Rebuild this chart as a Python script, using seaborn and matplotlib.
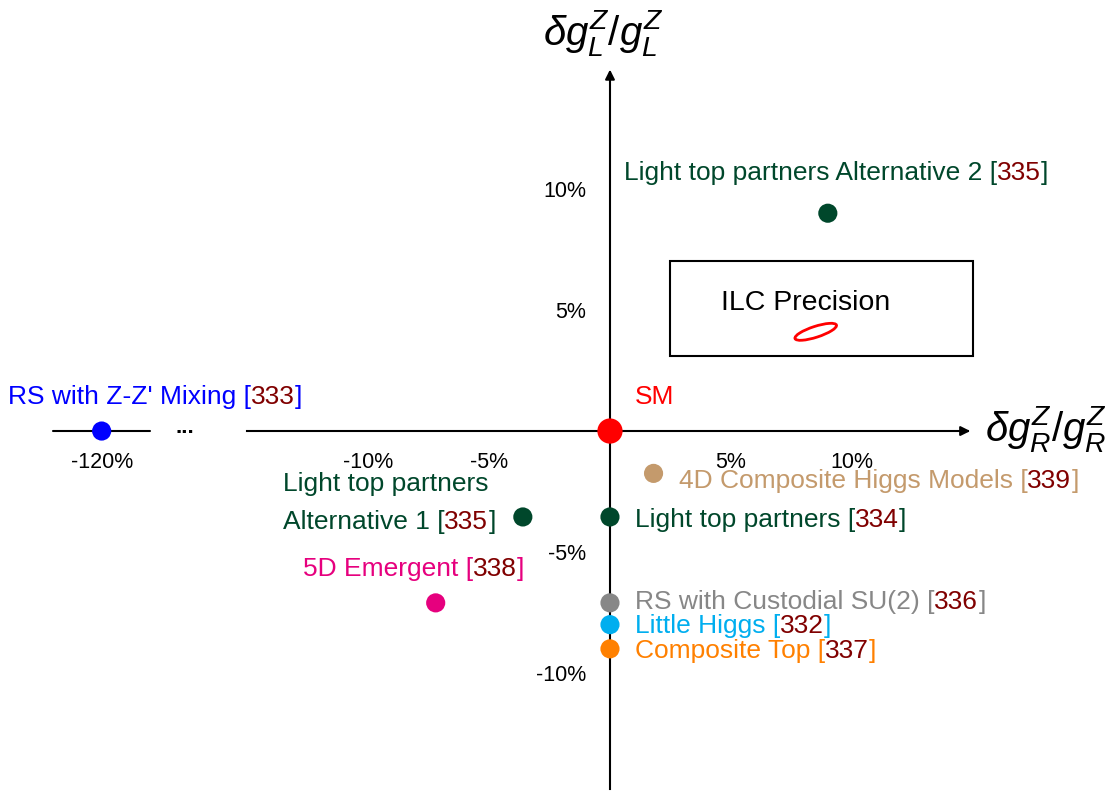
import numpy as np
import pandas as pd
import seaborn as sns
import matplotlib.pyplot as plt
from matplotlib.patches import Ellipse, Rectangle

# model predictions, shifts in percent
models = ["RS with Z-Z' Mixing", "Light top partners Alternative 2", "4D Composite Higgs Models",
          "Light top partners", "Light top partners Alternative 1", "5D Emergent",
          "RS with Custodial SU(2)", "Little Higgs", "Composite Top"]
dgR = [-120, 9.0, 1.8, 0.0, -3.6, -7.2, 0.0, 0.0, 0.0]
dgL = [0.0, 9.0, -1.75, -3.55, -3.55, -7.1, -7.1, -8.0, -9.0]
refs = ["333", "335", "339", "334", "335", "338", "336", "332", "337"]
colors = ["#0000ff", "#00472b", "#c49a6c", "#00472b", "#00472b", "#e6007e",
          "#878787", "#00aeef", "#ff8000"]
sm_x, sm_y = [0.0], [0.0]

xticks = [-120, -10, -5, 5, 10]
yticks = [-10, -5, 5, 10]

# ILC precision ellipse (shown inside the box)
ilc_center = (8.5, 4.1)
ilc_w, ilc_h, ilc_angle = 1.8, 0.45, 18

sns.set_style("white")
plt.rcParams["font.family"] = ["Liberation Sans", "DejaVu Sans"]
plt.rcParams["text.color"] = "black"
plt.rcParams["mathtext.fontset"] = "custom"
plt.rcParams["mathtext.it"] = "Liberation Sans:italic"
plt.rcParams["mathtext.rm"] = "Liberation Sans"

df = pd.DataFrame({"model": models, "dgR": dgR, "dgL": dgL})
pal = dict(zip(models, colors))

fig = plt.figure(figsize=(11.12, 7.96), dpi=100)
ax = fig.add_axes([0, 0, 1, 1])

# broken x axis: compress the range between -118% and -15%
dk = [-1000, -118, -15, 1000]
pk = [-901, -19, -15, 1000]
ax.set_xscale("function", functions=(lambda v: np.interp(v, dk, pk),
                                     lambda v: np.interp(v, pk, dk)))
ax.set_xlim(-124.2, 20.74)
ax.set_ylim(-15.08, 17.81)

for s in ["top", "right"]:
    ax.spines[s].set_visible(False)
ax.spines["left"].set_position(("data", 0))
ax.spines["bottom"].set_position(("data", 0))
ax.spines["bottom"].set_bounds(-15, 14.8)
ax.spines["left"].set_bounds(-14.8, 14.8)
for s in ["left", "bottom"]:
    ax.spines[s].set_linewidth(1.5)
    ax.spines[s].set_color("black")
ax.plot([-122, -118], [0, 0], color="black", lw=1.5)
ax.text(-81, -0.1, "...", ha="center", va="baseline", fontsize=16, fontweight="bold")
ax.annotate("", xy=(15.0, 0), xytext=(14.5, 0),
            arrowprops=dict(arrowstyle="-|>", color="black", lw=1.5, mutation_scale=14))
ax.annotate("", xy=(0, 15.05), xytext=(0, 14.5),
            arrowprops=dict(arrowstyle="-|>", color="black", lw=1.5, mutation_scale=14))

sns.scatterplot(data=df, x="dgR", y="dgL", hue="model", palette=pal, s=190,
                edgecolor="none", legend=False, ax=ax, zorder=5)
sns.scatterplot(x=sm_x, y=sm_y, color="#ff0000", s=330, edgecolor="none",
                legend=False, ax=ax, zorder=6)
ax.set_xlabel("")
ax.set_ylabel("")

ax.set_xticks(xticks, [f"{t}%" for t in xticks])
ax.set_yticks(yticks, [f"{t}%" for t in yticks])
ax.tick_params(direction="inout", length=18, width=1.5, labelsize=15.5, colors="black")
ax.tick_params(axis="x", pad=6)
ax.tick_params(axis="y", pad=8)

ax.text(18.0, 0.1, r"$\delta g^Z_R/g^Z_R$", fontsize=29, ha="center", va="center")
ax.text(-0.3, 16.45, r"$\delta g^Z_L/g^Z_L$", fontsize=29, ha="center", va="center")

ax.add_patch(Rectangle((2.48, 3.1), 12.52, 3.92, fill=False, lw=1.5, ec="black"))
ax.text(8.1, 5.3, "ILC Precision", fontsize=20.5, ha="center", va="center")
ax.add_patch(Ellipse(ilc_center, ilc_w, ilc_h, angle=ilc_angle, fill=False, ec="#ff0000", lw=2))

FS = 19
DARKRED = "#800000"


def colored_label(xy, dx, dy, parts):
    # dx, dy in pixels relative to the marker; pieces are chained left to right
    t = ax.annotate(parts[0][0], xy=xy, xytext=(dx * 0.72, dy * 0.72),
                    textcoords="offset points", ha="left", va="center",
                    color=parts[0][1], fontsize=FS)
    for txt, c in parts[1:]:
        t = ax.annotate(txt, xy=(1, 0), xycoords=t, ha="left", va="bottom",
                        color=c, fontsize=FS)
    return t


offsets = [(-94, 34), (-204, 40), (25, -8), (25, -3), (-240, -5), (-133, 34),
           (25, 1), (25, -1), (25, -2)]
for i, m in enumerate(models):
    name = m if m != "Light top partners Alternative 1" else "Alternative 1"
    c = colors[i]
    colored_label((dgR[i], dgL[i]), *offsets[i],
                  [(name + " [", c), (refs[i], DARKRED), ("]", c)])
colored_label((dgR[4], dgL[4]), -240, 33, [("Light top partners", colors[4])])
colored_label((sm_x[0], sm_y[0]), 25, 34, [("SM", "#ff0000")])

fig.savefig("out.png", dpi=100)
